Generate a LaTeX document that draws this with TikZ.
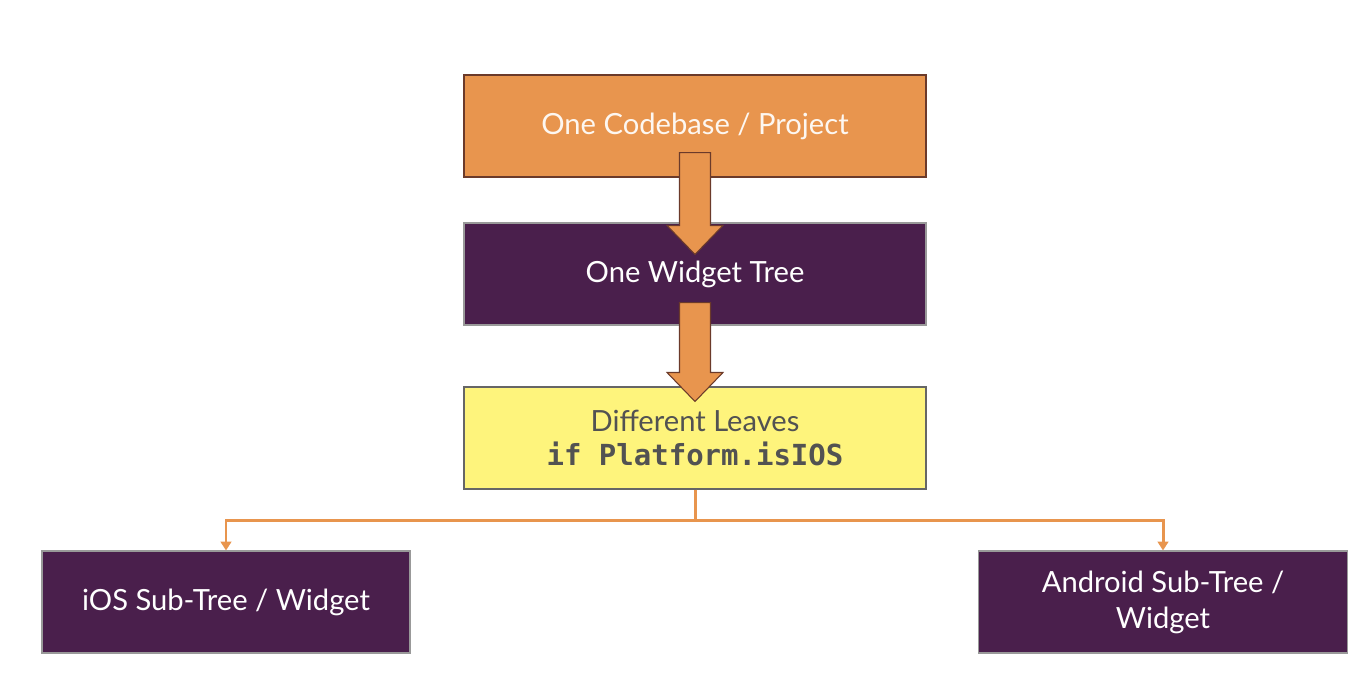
\documentclass[tikz,border=0pt]{standalone}
\usepackage{fontspec}
\setmainfont{Lato}
\newfontfamily\codefont{DejaVu Sans Mono}
\usetikzlibrary{arrows.meta,calc}

\definecolor{flutterorange}{HTML}{E8954E}
\definecolor{flutterpurple}{HTML}{4A1F4C}
\definecolor{flutteryellow}{HTML}{FEF47C}
\definecolor{edgebrown}{HTML}{6B3A2A}

\tikzset{
  box/.style={rectangle, minimum width=9.24cm, minimum height=2.04cm,
    align=center, font=\fontsize{16.6}{20.5}\selectfont, line width=0.6pt},
  orangebox/.style={box, fill=flutterorange, draw=edgebrown, text=white!92!flutterorange},
  purplebox/.style={box, fill=flutterpurple, draw=black!40, text=white},
  yellowbox/.style={box, fill=flutteryellow, draw=black!60, text=black!68},
  fatarrow/.style={fill=flutterorange, draw=edgebrown, line width=0.6pt},
  branch/.style={draw=flutterorange, line width=1.7pt, -{Triangle[width=6pt,length=5pt]}}
}

% block arrow from a start point straight down to a tip
\newcommand{\fatarrow}[2]{%
  \draw[fatarrow] let \p1=(#1), \p2=(#2) in
    (\x1-0.31cm,\y1) -- (\x1+0.31cm,\y1) -- (\x1+0.31cm,\y2+0.58cm)
    -- (\x1+0.56cm,\y2+0.58cm) -- (\x2,\y2) -- (\x1-0.56cm,\y2+0.58cm)
    -- (\x1-0.31cm,\y2+0.58cm) -- cycle;}

\begin{document}
\begin{tikzpicture}
  \useasboundingbox (0,0) rectangle (27.36,-13.44);

  % Main column
  \node[orangebox] (codebase) at (13.9,-2.52) {One Codebase / Project};
  \node[purplebox] (widgettree) at (13.9,-5.48) {One Widget Tree};
  \node[yellowbox] (leaves) at (13.9,-8.76)
    {Different Leaves\\[-1pt]{\codefont\bfseries\fontsize{16.5}{20}\selectfont if Platform.isIOS}};

  % Platform leaves
  \node[purplebox, minimum width=7.36cm] (ios) at (4.52,-12.04) {iOS Sub-Tree / Widget};
  \node[purplebox, minimum width=7.38cm] (android) at (23.26,-12.04) {Android Sub-Tree /\\Widget};

  % Block arrows
  \coordinate (from1) at ($(codebase.south)+(0,0.5)$);
  \coordinate (to1) at ($(widgettree.north)+(0,-0.64)$);
  \fatarrow{from1}{to1}
  \coordinate (from2) at ($(widgettree.south)+(0,0.46)$);
  \coordinate (to2) at ($(leaves.north)+(0,-0.3)$);
  \fatarrow{from2}{to2}

  % Branches
  \draw[branch] (leaves.south) -- ++(0,-0.62) -| (ios.north);
  \draw[branch] (leaves.south) -- ++(0,-0.62) -| (android.north);
\end{tikzpicture}
\end{document}
